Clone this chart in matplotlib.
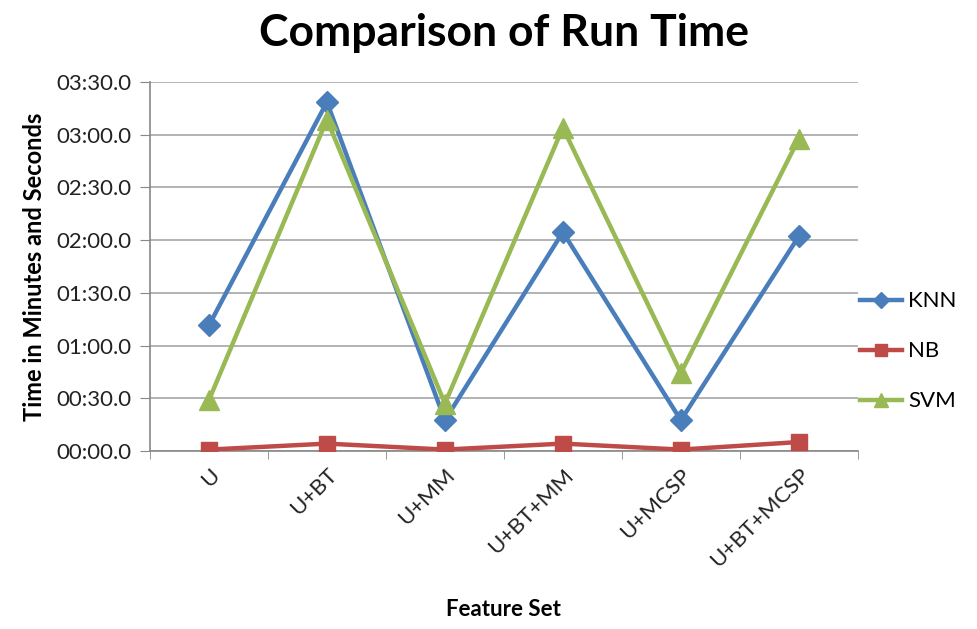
import numpy as np
import matplotlib
matplotlib.use("Agg")
import matplotlib.pyplot as plt
from matplotlib.ticker import FuncFormatter, MultipleLocator

# run times in seconds
features = ["U", "U+BT", "U+MM", "U+BT+MM", "U+MCSP", "U+BT+MCSP"]
knn = [71.5, 198.6, 17.5, 124.6, 17.5, 122.2]
nb = [0.8, 4.2, 0.8, 4.2, 0.8, 5.1]
svm = [29.0, 188.6, 27.0, 184.0, 44.4, 177.8]

plt.rcParams['font.family'] = ['Lato', 'DejaVu Sans']

fig = plt.figure(figsize=(9.77, 6.29), dpi=100)
ax = fig.add_axes([0.1535, 0.283, 0.7245, 0.5866])

x = np.arange(len(features))
ax.plot(x, knn, color="#4A7EBB", lw=3.2, marker="D", ms=11, label="KNN", zorder=4)
ax.plot(x, nb, color="#BE4B48", lw=3.2, marker="s", ms=11, label="NB", zorder=3)
ax.plot(x, svm, color="#98B954", lw=3.2, marker="^", ms=14, label="SVM", zorder=5)

def mmss(v, pos):
    m = int(v // 60)
    s = v - m * 60
    return "%02d:%04.1f" % (m, s)

ax.set_ylim(0, 210)
ax.yaxis.set_major_locator(MultipleLocator(30))
ax.yaxis.set_major_formatter(FuncFormatter(mmss))
ax.set_xlim(-0.5, len(features) - 0.5)
ax.set_xticks(x)
ax.set_xticklabels(features, rotation=45, ha="right", rotation_mode="anchor")
ax.set_xticks(np.arange(-0.5, len(features)), minor=True)
ax.tick_params(axis="x", which="major", length=0, pad=10, labelsize=16, colors="#222222")
ax.tick_params(axis="x", which="minor", length=6, color="#888888")
ax.tick_params(axis="y", length=7, color="#888888", labelsize=16, colors="#222222", pad=6)

ax.grid(axis="y", color="#A6A6A6", lw=1.2)
ax.set_axisbelow(True)
for side in ["top", "right"]:
    ax.spines[side].set_visible(False)
for side in ["left", "bottom"]:
    ax.spines[side].set_color("#888888")
    ax.spines[side].set_linewidth(1.2)

ax.set_title("Comparison of Run Time", fontsize=32, fontweight="bold", pad=26)
ax.set_ylabel("Time in Minutes and Seconds", fontsize=17, fontweight="bold", labelpad=8)
ax.set_xlabel("Feature Set", fontsize=16, fontweight="bold", labelpad=20)

ax.legend(loc="center left", bbox_to_anchor=(1.0, 0.27), frameon=False,
          fontsize=16, handlelength=1.9, handletextpad=0.25, labelspacing=1.35,
          borderaxespad=0.0, borderpad=0.1, markerscale=0.75)

fig.savefig("out.png", dpi=100)
